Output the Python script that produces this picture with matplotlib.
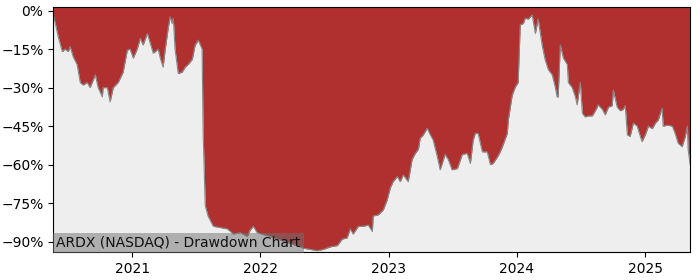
import pandas as pd
import matplotlib
matplotlib.use('Agg')
import matplotlib.pyplot as plt
import matplotlib.dates as mdates
import matplotlib.ticker as mticker

# drawdown values (percent below running peak)
dates = ['2020-05-21', '2020-05-27', '2020-06-04', '2020-06-16', '2020-06-24', '2020-07-03',
         '2020-07-08', '2020-07-17', '2020-07-28', '2020-08-06', '2020-08-14', '2020-08-26',
         '2020-09-03', '2020-09-18', '2020-09-26', '2020-10-08', '2020-10-10', '2020-10-22',
         '2020-10-30', '2020-11-08', '2020-11-22', '2020-12-06', '2020-12-18', '2020-12-26',
         '2021-01-04', '2021-01-15', '2021-01-24', '2021-02-01', '2021-02-13', '2021-02-21',
         '2021-03-02', '2021-03-16', '2021-03-22', '2021-03-30', '2021-04-05', '2021-04-14',
         '2021-04-19', '2021-04-25', '2021-04-28', '2021-05-03', '2021-05-12', '2021-05-23',
         '2021-06-01', '2021-06-09', '2021-06-21', '2021-06-29', '2021-07-08', '2021-07-19',
         '2021-07-22', '2021-07-28', '2021-08-05', '2021-08-20', '2021-09-09', '2021-09-29',
         '2021-10-16', '2021-11-05', '2021-11-25', '2021-12-03', '2021-12-12', '2021-12-23',
         '2022-01-29', '2022-03-13', '2022-04-24', '2022-05-03', '2022-05-23', '2022-06-12',
         '2022-06-29', '2022-07-19', '2022-08-08', '2022-08-22', '2022-09-05', '2022-09-14',
         '2022-09-22', '2022-10-07', '2022-10-21', '2022-11-04', '2022-11-16', '2022-11-18',
         '2022-12-03', '2022-12-17', '2022-12-28', '2023-01-06', '2023-01-14', '2023-01-26',
         '2023-02-03', '2023-02-12', '2023-02-26', '2023-03-09', '2023-03-18', '2023-03-27',
         '2023-04-01', '2023-04-10', '2023-04-21', '2023-04-30', '2023-05-08', '2023-05-20',
         '2023-05-28', '2023-06-11', '2023-06-20', '2023-07-01', '2023-07-16', '2023-07-30',
         '2023-08-13', '2023-08-22', '2023-08-30', '2023-09-05', '2023-09-13', '2023-09-25',
         '2023-10-09', '2023-10-18', '2023-10-26', '2023-11-07', '2023-11-15', '2023-11-24',
         '2023-12-05', '2023-12-08', '2023-12-19', '2023-12-28', '2024-01-05', '2024-01-11',
         '2024-01-20', '2024-01-25', '2024-02-03', '2024-02-14', '2024-02-23', '2024-03-02',
         '2024-03-14', '2024-03-22', '2024-03-31', '2024-04-11', '2024-04-20', '2024-04-25',
         '2024-04-28', '2024-05-04', '2024-05-13', '2024-05-24', '2024-05-27', '2024-06-07',
         '2024-06-16', '2024-06-21', '2024-06-30', '2024-07-06', '2024-07-14', '2024-07-23',
         '2024-08-03', '2024-08-12', '2024-08-20', '2024-09-01', '2024-09-09', '2024-09-18',
         '2024-09-29', '2024-10-02', '2024-10-13', '2024-10-22', '2024-10-30', '2024-11-05',
         '2024-11-11', '2024-11-19', '2024-11-28', '2024-12-09', '2024-12-18', '2024-12-23',
         '2025-01-01', '2025-01-10', '2025-01-21', '2025-01-30', '2025-02-07', '2025-02-18',
         '2025-02-21', '2025-03-05', '2025-03-19', '2025-03-27', '2025-04-05', '2025-04-16',
         '2025-04-25', '2025-05-01', '2025-05-03', '2025-05-09']

drawdown = [-1.7, -5, -10, -16, -15, -16,
            -14, -18, -21, -28, -29, -28,
            -30, -25, -30, -33.6, -30, -30,
            -35.5, -30, -28, -24, -15.4, -15,
            -18.5, -15, -10.8, -13.4, -8.9, -12.5,
            -16.6, -15, -18.6, -22, -15, -6.3,
            -2.4, -5, -3, -15, -24.5, -24,
            -22, -21, -19, -13.5, -11.5, -15,
            -47.8, -76, -80, -84, -84.5, -85,
            -87, -86.5, -88, -85.4, -84, -86.5,
            -88, -90, -92, -92.5, -93, -93.5,
            -93, -92, -91.5, -89, -88.5, -85,
            -87, -84, -84, -83.5, -86, -80,
            -79.5, -77.6, -73.7, -69, -66.6, -64.6,
            -66.6, -64, -66.6, -58, -55.6, -54,
            -49.7, -48.4, -45.8, -48.4, -50.4, -57,
            -62, -56, -58, -62, -61.5, -56,
            -55.6, -59.5, -50.4, -47.8, -47.8, -55,
            -55, -60, -59.5, -57, -55, -52,
            -47.8, -42.6, -33, -29.7, -28, -5.6,
            -5, -3, -3.3, -1.7, -8.9, -3.3,
            -14, -19.2, -23, -25, -30, -33.6,
            -33.6, -13.4, -18.6, -21, -28, -30,
            -33.6, -36.7, -28, -40, -41.4, -41,
            -41, -39, -36.7, -38.5, -40.6, -37.6,
            -37, -31, -37.6, -39, -38.5, -37,
            -48.4, -49, -43.8, -45, -49, -51,
            -48.4, -45, -46, -43.8, -42.6, -38,
            -45, -44.6, -45, -47.8, -51.7, -53,
            -49, -45, -54, -60]

title = 'ARDX (NASDAQ) - Drawdown Chart'

df = pd.DataFrame({'date': pd.to_datetime(dates), 'dd': drawdown})

fig = plt.figure(figsize=(7, 2.8), dpi=100)
ax = fig.add_axes([0.076, 0.1, 0.91, 0.875])
ax.set_facecolor('#eeeeee')

ax.fill_between(df['date'], df['dd'], 5, color='#b03030', linewidth=0)
ax.plot(df['date'], df['dd'], color='#888888', linewidth=0.8)

ax.set_xlim(df['date'].iloc[0], df['date'].iloc[-1])
ax.set_ylim(-94, 1.4)

ax.yaxis.set_major_locator(mticker.MultipleLocator(15))
ax.yaxis.set_major_formatter(mticker.PercentFormatter(decimals=0))
ax.xaxis.set_major_locator(mdates.YearLocator())
ax.xaxis.set_major_formatter(mdates.DateFormatter('%Y'))

# label box sits in the bottom-left corner of the axes
ax.annotate(title, xy=(0, 0), xycoords='axes fraction', xytext=(2.2, 1.6),
            textcoords='offset points', fontsize=10, color='#111111',
            va='bottom', ha='left',
            bbox=dict(facecolor='#717171', alpha=0.5, edgecolor='none', pad=2.2))

fig.savefig('out.png', dpi=100)
